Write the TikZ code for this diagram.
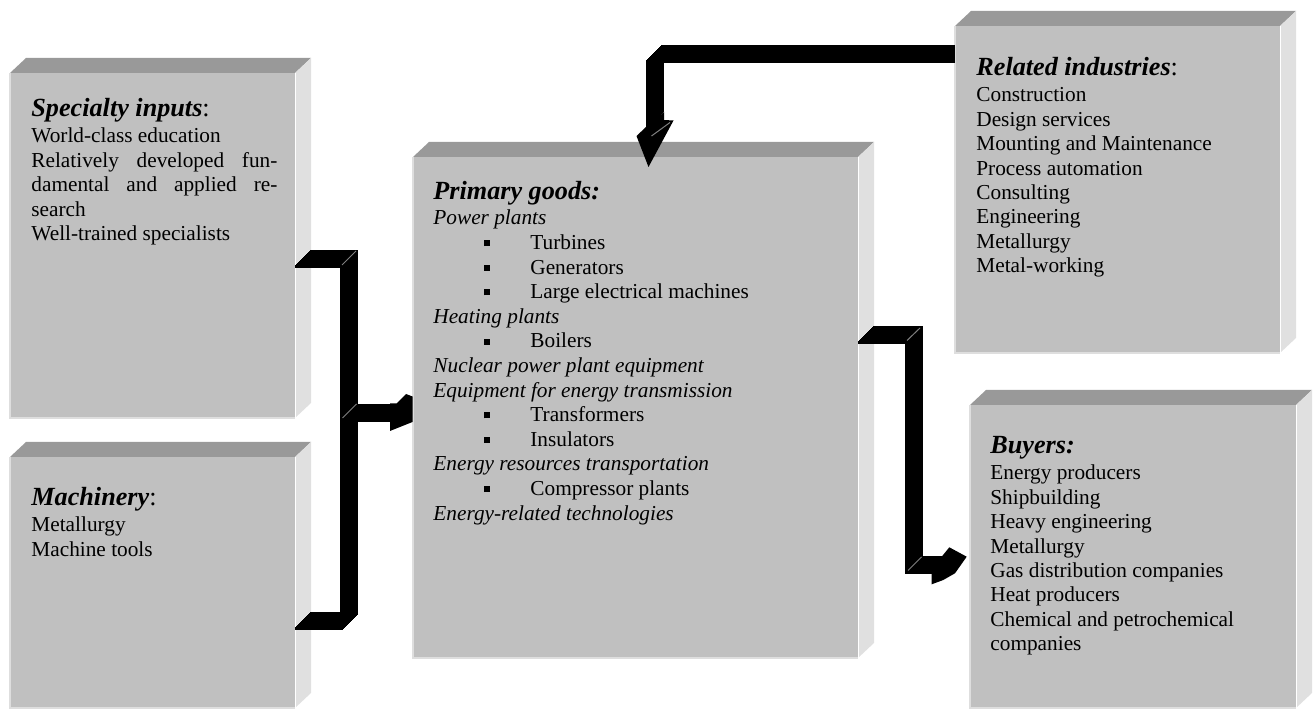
\documentclass[tikz,border=0pt]{standalone}
\usepackage{fontspec}
\setmainfont{Liberation Serif}
\usepackage{tikz}
\usetikzlibrary{calc}
\usetikzlibrary{fit}
\definecolor{slabfront}{RGB}{192,192,192}
\definecolor{slabtop}{RGB}{153,153,153}
\definecolor{slabside}{RGB}{224,224,224}
\definecolor{slabrim}{RGB}{222,222,222}
\tikzstyle{slab}=[rectangle, fill=slabfront, inner sep=0pt, outer sep=0pt]
\tikzstyle{topface}=[fill=slabtop]
\tikzstyle{sideface}=[fill=slabside]
\tikzstyle{rimline}=[draw=slabrim, line width=0.6pt]
\tikzstyle{boxtext}=[anchor=base west, inner sep=0pt,
  font=\fontsize{10.65}{12.2}\selectfont]
\tikzstyle{blockline}=[draw=black, line width=1.5pt, line join=miter]
\tikzstyle{blockhead}=[fill=black]
\tikzstyle{bevelline}=[draw=gray, line width=0.5pt]
% depth faces of a box
\newcommand{\slabfaces}[1]{%
  \fill[topface] (#1.north west) -- ++(16,-15) -- ($(#1.north east)+(16,-15)$)
    -- (#1.north east) -- cycle;
  \fill[sideface] (#1.north east) -- ++(16,-15) -- ($(#1.south east)+(16,-15)$)
    -- (#1.south east) -- cycle;
  \draw[rimline] (#1.north west) -- (#1.south west) -- (#1.south east);
  \draw[white, line width=0.5pt] (#1.north east) -- (#1.south east);}
\newcommand{\boxhead}[1]{{\fontsize{13.1}{12.2}\selectfont\bfseries\itshape #1}}
\newcommand{\sqitem}{\makebox[48.5pt][l]{\hspace*{25.5pt}\raisebox{1.7pt}{\rule{3pt}{3pt}}}}

\begin{document}
\begin{tikzpicture}[x=0.5pt, y=-0.5pt]
\useasboundingbox (0,0) rectangle (1314,711);

\node[slab, fit={(413,157) (858,658)}] (primgoods) {};
\slabfaces{primgoods}
\node[slab, fit={(10,73) (295,418)}] (specinputs) {};
\slabfaces{specinputs}
\node[slab, fit={(10,457) (295,708)}] (machinery) {};
\slabfaces{machinery}
\node[slab, fit={(955,26) (1280,353)}] (relind) {};
\slabfaces{relind}
\node[slab, fit={(970,405) (1296,708)}] (buyers) {};
\slabfaces{buyers}

\node[boxtext] (specinlist) at (31,117) {\begin{tabular}[t]{@{}l@{}}
  \boxhead{Specialty inputs\upshape\mdseries:}\\[0.8pt]
  World-class education\\
  \makebox[123pt][s]{Relatively developed fun-}\\
  \makebox[123pt][s]{damental and applied re-}\\
  search\\
  Well-trained specialists
  \end{tabular}};

\node[boxtext] (machlist) at (31,506) {\begin{tabular}[t]{@{}l@{}}
  \boxhead{Machinery\upshape\mdseries:}\\[0.8pt]
  Metallurgy\\
  Machine tools
  \end{tabular}};

\node[boxtext, font=\fontsize{10.65}{12.3}\selectfont] (goodslist) at (433,200)
  {\begin{tabular}[t]{@{}l@{}}
  \boxhead{Primary goods:}\\[0.2pt]
  \textit{Power plants}\\
  \sqitem Turbines\\
  \sqitem Generators\\
  \sqitem Large electrical machines\\
  \textit{Heating plants}\\
  \sqitem Boilers\\
  \textit{Nuclear power plant equipment}\\
  \textit{Equipment for energy transmission}\\
  \sqitem Transformers\\
  \sqitem Insulators\\
  \textit{Energy resources transportation}\\
  \sqitem Compressor plants\\
  \textit{Energy-related technologies}
  \end{tabular}};

\node[boxtext] (relindlist) at (976,76) {\begin{tabular}[t]{@{}l@{}}
  \boxhead{Related industries\upshape\mdseries:}\\[0.8pt]
  Construction\\
  Design services\\
  Mounting and Maintenance\\
  Process automation\\
  Consulting\\
  Engineering\\
  Metallurgy\\
  Metal-working
  \end{tabular}};

\node[boxtext] (buyerslist) at (990,454) {\begin{tabular}[t]{@{}l@{}}
  \boxhead{Buyers:}\\[0.8pt]
  Energy producers\\
  Shipbuilding\\
  Heavy engineering\\
  Metallurgy\\
  Gas distribution companies\\
  Heat producers\\
  Chemical and petrochemical\\
  companies
  \end{tabular}};

% block arrows, swept for depth
\coordinate (midhead) at ($(primgoods.west)+(-23,13)$);
\coordinate (buyhead) at ($(buyers.west)+(-38.3,16.5)$);
\coordinate (relhead) at ($(primgoods.north)+(12,-30)$);

\foreach \d [evaluate=\d as \s using \d*0.5] in {0,...,15}{
  \draw[blockline, transform canvas={shift={(\d,-\d)}}]
    ($(specinputs.east)+(0,21)$) -| ($(machinery.east)+(46.5,46)$)
    -- ($(machinery.east)+(0,46)$)
    ($(primgoods.west)+(-71.5,13)$) -- (midhead);
  \draw[blockline, transform canvas={shift={(\d,-\d)}}]
    ($(primgoods.east)+(0,-65)$) -| ($(buyers.west)+(-63.5,16.5)$) -- (buyhead);
  \draw[blockline, transform canvas={shift={(\d,-\d)}}, shorten <=\s pt]
    (relind.west |- 0,61.5) -| (relhead);
}

\fill[blockhead, shift={(midhead)}] (0,1.5) -- (0,10.5) -- (22.5,1.5) -- (22.5,-24)
  -- (16,-26.5) -- (6.5,-17) -- (0,-17) -- cycle;
\fill[blockhead, shift={(buyhead)}] (0,1.5) -- (0,11.3) -- (11.6,7) -- (23.3,0.3)
  -- (35,-16.3) -- (17.6,-25.7) -- (10,-16.3) -- (0,-16.3) -- cycle;
\fill[blockhead, shift={(relhead)}] (-1.5,0) -- (-11,9) -- (1,40) -- (26,-6.5)
  -- (16.5,-7) -- (16.5,-15) -- cycle;

\draw[bevelline] (342,265) -- ++(14,-14);
\draw[bevelline] (342.5,418) -- ++(14,-14);
\draw[bevelline] (907,340.5) -- ++(13,-12.5);
\draw[bevelline] (908,570.5) -- ++(13.5,-13.5);
\draw[bevelline, shift={(relhead)}] (4,9) -- (22.5,-4.5);

\end{tikzpicture}
\end{document}
